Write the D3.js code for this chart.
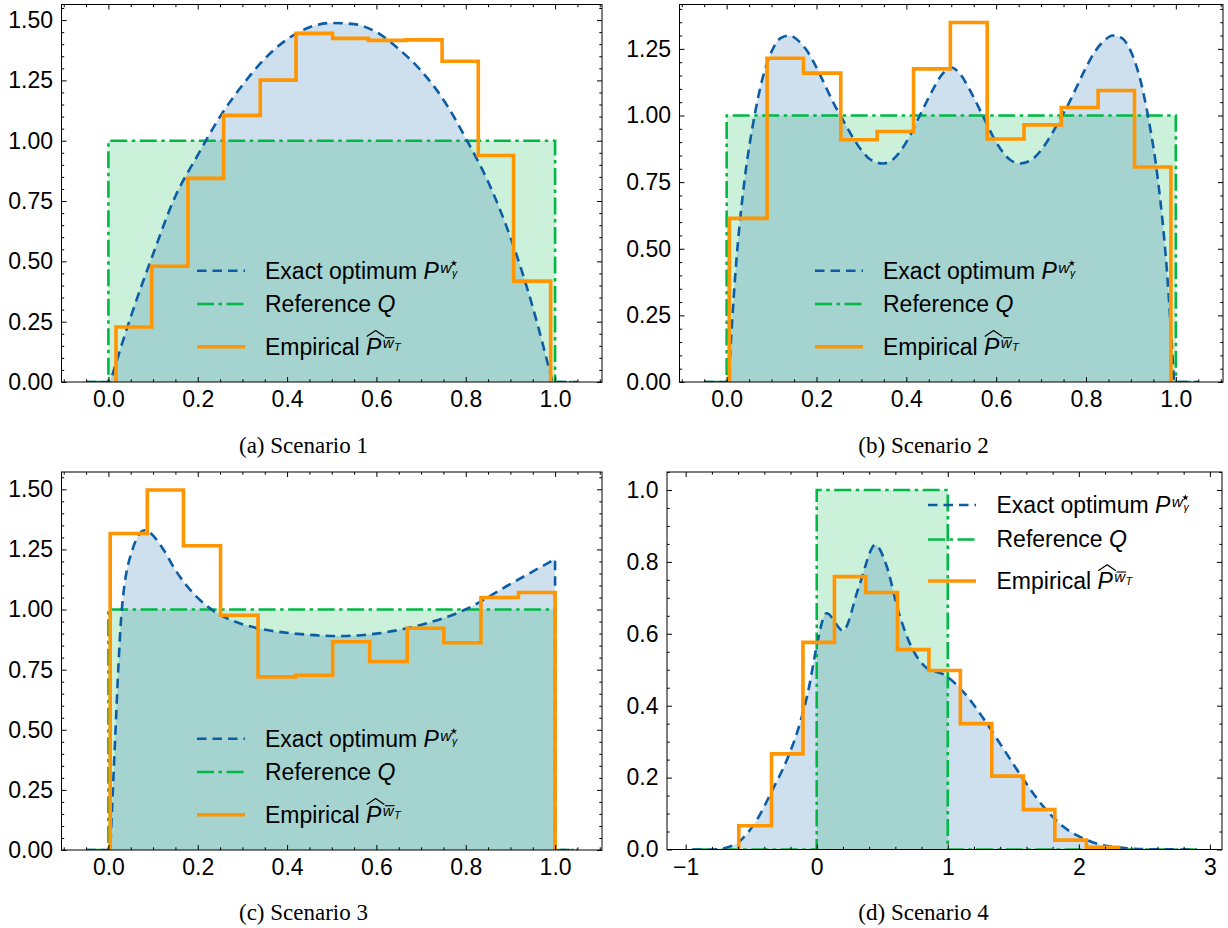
<!DOCTYPE html>
<html>
<head>
<meta charset="utf-8">
<script src="https://cdn.jsdelivr.net/npm/d3@7/dist/d3.min.js"></script>
<style>
  html, body { margin: 0; padding: 0; background: #fff; }
  svg { display: block; }
  text { white-space: pre; }
</style>
</head>
<body>
<script>
// ---------------- DATA ----------------
// Tick labels
const xTicksUnit = [0.0, 0.2, 0.4, 0.6, 0.8, 1.0];
const yTicksA = [0.00, 0.25, 0.50, 0.75, 1.00, 1.25, 1.50];
const yTicksB = [0.00, 0.25, 0.50, 0.75, 1.00, 1.25];
const yTicksC = [0.00, 0.25, 0.50, 0.75, 1.00, 1.25, 1.50];
const xTicksD = [-1, 0, 1, 2, 3];
const yTicksD = [0.0, 0.2, 0.4, 0.6, 0.8, 1.0];

// Legend / captions
const legendLabels = ["Exact optimum", "Reference", "Empirical"];
const captions = ["(a) Scenario 1", "(b) Scenario 2", "(c) Scenario 3", "(d) Scenario 4"];

// Reference Q (uniform density)
const refXUnit = [-0.05, 0, 0, 1, 1, 1.05];
const refYUnit = [0, 0, 1, 1, 0, 0];
const refXD = [-0.95, 0, 0, 1, 1, 2.9];
const refYD = [0, 0, 1, 1, 0, 0];

// Exact optimum curves (smooth part) + support range
const exactXA = [0.004, 0.05, 0.10, 0.15, 0.20, 0.25, 0.30, 0.35, 0.40, 0.45, 0.50, 0.55, 0.60, 0.65, 0.70, 0.75, 0.80, 0.85, 0.90, 0.95, 0.994];
const exactYA = [0, 0.27, 0.53, 0.77, 0.94, 1.10, 1.23, 1.34, 1.42, 1.47, 1.488, 1.483, 1.45, 1.38, 1.29, 1.17, 1.01, 0.83, 0.60, 0.31, 0];
const exactRangeA = [-0.05, 1.05];

const exactXB = [0.004, 0.02, 0.04, 0.06, 0.08, 0.10, 0.12, 0.14, 0.16, 0.18, 0.20, 0.22, 0.24, 0.26, 0.28, 0.30, 0.32, 0.347, 0.37, 0.40, 0.43, 0.46, 0.48, 0.50,
                 0.52, 0.54, 0.57, 0.60, 0.63, 0.653, 0.68, 0.70, 0.72, 0.74, 0.76, 0.78, 0.80, 0.82, 0.84, 0.86, 0.88, 0.90, 0.92, 0.94, 0.96, 0.98, 0.996];
const exactYB = [0, 0.42, 0.76, 0.98, 1.14, 1.24, 1.29, 1.30, 1.28, 1.24, 1.18, 1.11, 1.04, 0.98, 0.92, 0.87, 0.835, 0.82, 0.835, 0.90, 1.00, 1.10, 1.155, 1.18,
                 1.155, 1.10, 1.00, 0.90, 0.835, 0.82, 0.835, 0.87, 0.92, 0.98, 1.04, 1.11, 1.18, 1.24, 1.28, 1.30, 1.29, 1.24, 1.14, 0.98, 0.76, 0.42, 0];
const exactRangeB = [-0.05, 1.05];

const exactXC = [0.004, 0.010, 0.016, 0.022, 0.030, 0.054, 0.081, 0.123, 0.149, 0.175, 0.231, 0.283, 0.340, 0.418, 0.522, 0.600, 0.686, 0.799, 0.894, 1.000];
const exactYC = [0, 0.25, 0.50, 0.75, 1.00, 1.25, 1.33, 1.25, 1.167, 1.10, 1.00, 0.95, 0.92, 0.90, 0.89, 0.90, 0.93, 1.00, 1.10, 1.21];
const exactRangeC = [-0.05, 1.05];

const exactXD = [-0.95, -0.80, -0.70, -0.58, -0.459, -0.339, -0.219, -0.129, -0.054, -0.009, 0.075, 0.201, 0.321, 0.447, 0.532,
                 0.622, 0.712, 0.832, 0.982, 1.132, 1.282, 1.432, 1.583, 1.733, 1.883, 2.033, 2.183, 2.333, 2.50, 2.90];
const exactYD = [0, 0.0, 0.004, 0.026, 0.081, 0.165, 0.257, 0.35, 0.46, 0.55, 0.657, 0.609, 0.73, 0.847, 0.79,
                 0.664, 0.572, 0.507, 0.484, 0.433, 0.359, 0.276, 0.192, 0.118, 0.063, 0.031, 0.012, 0.005, 0.001, 0];
const exactRangeD = [-0.95, 2.9];

// Empirical histograms (bin edges and densities)
const histEdgesA = [0.017, 0.097, 0.178, 0.258, 0.340, 0.420, 0.502, 0.582, 0.665, 0.747, 0.828, 0.907, 0.990];
const histValsA  = [0.228, 0.480, 0.844, 1.105, 1.251, 1.445, 1.424, 1.416, 1.418, 1.329, 0.939, 0.418];

const histEdgesB = [0.006, 0.090, 0.171, 0.254, 0.335, 0.416, 0.498, 0.580, 0.662, 0.745, 0.827, 0.908, 0.989];
const histValsB  = [0.614, 1.215, 1.159, 0.909, 0.940, 1.175, 1.349, 0.912, 0.965, 1.030, 1.094, 0.807];

const histEdgesC = [0.004, 0.087, 0.168, 0.251, 0.335, 0.419, 0.502, 0.585, 0.669, 0.751, 0.834, 0.918, 1.000];
const histValsC  = [1.316, 1.497, 1.265, 0.976, 0.720, 0.727, 0.866, 0.784, 0.922, 0.862, 1.050, 1.071];

const histEdgesD = [-0.595, -0.345, -0.105, 0.135, 0.375, 0.616, 0.856, 1.096, 1.336, 1.577, 1.817, 2.057, 2.303];
const histValsD  = [0.066, 0.266, 0.576, 0.759, 0.715, 0.556, 0.498, 0.350, 0.204, 0.111, 0.026, 0.006];

// ---------------- STYLE ----------------
const C_BLUE = "#0C5DA5", C_GREEN = "#00B945", C_ORANGE = "#FF9500";
const FONT_SANS = "'Liberation Sans', Arial, Helvetica, sans-serif";
const FONT_SERIF = "'Liberation Serif', 'Times New Roman', Times, serif";
const TICK_FONT = 23;
const LEG_FONT = 23;

const panels = [
  { key: "a", left: 61.5, right: 602, top: 4.5, bottom: 382,
    xDomain: [-0.105, 1.105], yDomain: [0, 1.5645],
    xTicks: xTicksUnit, xMinor: 0.05, xFmt: ".1f", yTicks: yTicksA, yMinor: 0.05, yFmt: ".2f",
    refX: refXUnit, refY: refYUnit, exX: exactXA, exY: exactYA, exR: exactRangeA, dropEnd: false,
    edges: histEdgesA, vals: histValsA,
    legend: { lx0: 197, lx1: 245, tx: 265, ys: [270.7, 304, 346.7] },
    cap: { x: 303.5, y: 452.5, t: captions[0] } },
  { key: "b", left: 679.5, right: 1223, top: 4.5, bottom: 382,
    xDomain: [-0.105, 1.105], yDomain: [0, 1.4165],
    xTicks: xTicksUnit, xMinor: 0.05, xFmt: ".1f", yTicks: yTicksB, yMinor: 0.05, yFmt: ".2f",
    refX: refXUnit, refY: refYUnit, exX: exactXB, exY: exactYB, exR: exactRangeB, dropEnd: false,
    edges: histEdgesB, vals: histValsB,
    legend: { lx0: 815, lx1: 863, tx: 883, ys: [270.7, 304, 346.7] },
    cap: { x: 923.5, y: 452.5, t: captions[1] } },
  { key: "c", left: 61.5, right: 602, top: 472, bottom: 850,
    xDomain: [-0.105, 1.105], yDomain: [0, 1.572],
    xTicks: xTicksUnit, xMinor: 0.05, xFmt: ".1f", yTicks: yTicksC, yMinor: 0.05, yFmt: ".2f",
    refX: refXUnit, refY: refYUnit, exX: exactXC, exY: exactYC, exR: exactRangeC, dropEnd: true,
    edges: histEdgesC, vals: histValsC,
    legend: { lx0: 197, lx1: 245, tx: 265, ys: [738.7, 772, 814.7] },
    cap: { x: 303.5, y: 920, t: captions[2] } },
  { key: "d", left: 667, right: 1222, top: 472, bottom: 849.5,
    xDomain: [-1.1425, 3.0925], yDomain: [0, 1.05],
    xTicks: xTicksD, xMinor: 0.2, xFmt: "d", yTicks: yTicksD, yMinor: 0.05, yFmt: ".1f",
    refX: refXD, refY: refYD, exX: exactXD, exY: exactYD, exR: exactRangeD, dropEnd: false,
    edges: histEdgesD, vals: histValsD,
    legend: { lx0: 928, lx1: 976, tx: 996.5, ys: [505, 539.5, 581] },
    cap: { x: 923.5, y: 920, t: captions[3] } }
];

const svg = d3.select("body").append("svg")
  .attr("width", 1228).attr("height", 928)
  .attr("viewBox", "0 0 1228 928");
svg.append("rect").attr("width", 1228).attr("height", 928).attr("fill", "#fff");

function minorValues(domain, step, majors) {
  const out = [];
  const start = Math.ceil(domain[0] / step - 1e-9);
  const end = Math.floor(domain[1] / step + 1e-9);
  for (let i = start; i <= end; i++) {
    const v = +(i * step).toFixed(6);
    if (!majors.some(m => Math.abs(m - v) < 1e-6)) out.push(v);
  }
  return out;
}

function styleLine(sel, kind) {
  if (kind === "exact") sel.attr("stroke", C_BLUE).attr("stroke-width", 2.6).attr("stroke-dasharray", "9.5,6");
  if (kind === "ref") sel.attr("stroke", C_GREEN).attr("stroke-width", 2.6).attr("stroke-dasharray", "17,4.5,3.5,4.5");
  if (kind === "emp") sel.attr("stroke", C_ORANGE).attr("stroke-width", 3.6).attr("stroke-linejoin", "miter");
  return sel.attr("fill", "none");
}

function legendText(g, x, b, kind) {
  const t = g.append("text").attr("x", x).attr("y", b)
    .attr("font-family", FONT_SANS).attr("font-size", LEG_FONT).attr("fill", "#000");
  if (kind === "exact") {
    t.append("tspan").text(legendLabels[0] + " ");
    t.append("tspan").attr("font-style", "italic").text("P");
    t.append("tspan").attr("font-style", "italic").attr("font-size", 15.5)
      .attr("dx", 1.5).attr("dy", -5.8).text("w");
    const endW = x + t.node().getComputedTextLength();
    const gam = t.append("tspan").attr("font-style", "italic").attr("font-size", 10.5)
      .attr("dx", 0.4).attr("dy", 3.8).text("γ");
    const gw = gam.node().getComputedTextLength();
    // star (math \star) drawn as a small symbol above the gamma
    g.append("path")
      .attr("d", d3.symbol().type(d3.symbolStar).size(13)())
      .attr("transform", `translate(${endW + 0.4 + gw / 2 + 0.8},${b - 15.2})`)
      .attr("fill", "#000");
  } else if (kind === "ref") {
    t.append("tspan").text(legendLabels[1] + " ");
    t.append("tspan").attr("font-style", "italic").text("Q");
  } else {
    const pre = t.append("tspan").text(legendLabels[2] + " ");
    t.append("tspan").attr("font-style", "italic").text("P");
    const px0 = x + pre.node().getComputedTextLength();
    const px1 = x + t.node().getComputedTextLength();
    const wT = t.append("tspan").attr("font-style", "italic").attr("font-size", 15)
      .attr("dx", 1.5).attr("dy", -6.7).text("w");
    const ww = wT.node().getComputedTextLength();
    t.append("tspan").attr("font-style", "italic").attr("font-size", 11)
      .attr("dx", 0.3).attr("dy", 3.3).text("T");
    g.append("path")
      .attr("d", `M${px0 + 0.8},${b - 18}L${(px0 + px1) / 2 + 2},${b - 24}L${px1 + 3},${b - 18}`)
      .attr("fill", "none").attr("stroke", "#000").attr("stroke-width", 1.2);
    const wx = px1 + 1.5;
    g.append("line").attr("x1", wx + 2.2).attr("x2", wx + ww + 0.8)
      .attr("y1", b - 16.8).attr("y2", b - 16.8).attr("stroke", "#000").attr("stroke-width", 1.1);
  }
}

panels.forEach(p => {
  const x = d3.scaleLinear().domain(p.xDomain).range([p.left, p.right]);
  const y = d3.scaleLinear().domain(p.yDomain).range([p.bottom, p.top]);
  const g = svg.append("g");
  const clipId = "clip-" + p.key;
  g.append("clipPath").attr("id", clipId).append("rect")
    .attr("x", p.left).attr("y", p.top).attr("width", p.right - p.left).attr("height", p.bottom - p.top);
  const plot = g.append("g").attr("clip-path", `url(#${clipId})`);

  // Reference Q
  const refPts = p.refX.map((v, i) => [v, p.refY[i]]);
  const refArea = d3.area().x(d => x(d[0])).y0(y(0)).y1(d => y(d[1]));
  const refLine = d3.line().x(d => x(d[0])).y(d => y(d[1]));

  // Exact optimum: flat support + smooth interior
  const exPts = p.exX.map((v, i) => [v, p.exY[i]]);
  const smooth = d3.line().x(d => x(d[0])).y(d => y(d[1])).curve(d3.curveMonotoneX)(exPts);
  let exPath = `M${x(p.exR[0])},${y(0)}` + smooth.replace(/^M/, "L");
  const last = exPts[exPts.length - 1];
  if (p.dropEnd) exPath += `L${x(last[0])},${y(0)}`;
  exPath += `L${x(p.exR[1])},${y(0)}`;
  const exArea = exPath + `L${x(p.exR[0])},${y(0)}Z`;

  // fills
  plot.append("path").attr("d", refArea(refPts)).attr("fill", C_GREEN).attr("fill-opacity", 0.2);
  plot.append("path").attr("d", exArea).attr("fill", C_BLUE).attr("fill-opacity", 0.2);

  // lines
  styleLine(plot.append("path").attr("d", refLine(refPts)), "ref");
  styleLine(plot.append("path").attr("d", exPath), "exact");

  // histogram step outline
  const hPts = [[p.edges[0], 0]];
  p.vals.forEach((v, i) => { hPts.push([p.edges[i], v]); hPts.push([p.edges[i + 1], v]); });
  hPts.push([p.edges[p.edges.length - 1], 0]);
  styleLine(plot.append("path").attr("d", refLine(hPts)), "emp");

  // frame
  g.append("rect").attr("x", p.left).attr("y", p.top)
    .attr("width", p.right - p.left).attr("height", p.bottom - p.top)
    .attr("fill", "none").attr("stroke", "#000").attr("stroke-width", 1);

  // axes
  const xMinorV = minorValues(p.xDomain, p.xMinor, p.xTicks);
  const yMinorV = minorValues(p.yDomain, p.yMinor, p.yTicks);
  const fmtX = d3.format(p.xFmt);
  const fmtY = d3.format(p.yFmt);
  const MAJ = 5, MIN = 2.7;

  const axes = [
    [d3.axisBottom(x).tickValues(p.xTicks).tickFormat(fmtX).tickSizeInner(-MAJ).tickSizeOuter(0).tickPadding(9), `translate(0,${p.bottom})`],
    [d3.axisBottom(x).tickValues(xMinorV).tickFormat("").tickSizeInner(-MIN).tickSizeOuter(0), `translate(0,${p.bottom})`],
    [d3.axisTop(x).tickValues(p.xTicks).tickFormat("").tickSizeInner(-MAJ).tickSizeOuter(0), `translate(0,${p.top})`],
    [d3.axisTop(x).tickValues(xMinorV).tickFormat("").tickSizeInner(-MIN).tickSizeOuter(0), `translate(0,${p.top})`],
    [d3.axisLeft(y).tickValues(p.yTicks).tickFormat(fmtY).tickSizeInner(-MAJ).tickSizeOuter(0).tickPadding(8.5), `translate(${p.left},0)`],
    [d3.axisLeft(y).tickValues(yMinorV).tickFormat("").tickSizeInner(-MIN).tickSizeOuter(0), `translate(${p.left},0)`],
    [d3.axisRight(y).tickValues(p.yTicks).tickFormat("").tickSizeInner(-MAJ).tickSizeOuter(0), `translate(${p.right},0)`],
    [d3.axisRight(y).tickValues(yMinorV).tickFormat("").tickSizeInner(-MIN).tickSizeOuter(0), `translate(${p.right},0)`]
  ];
  axes.forEach(([ax, tr]) => {
    const ag = g.append("g").attr("transform", tr).call(ax);
    ag.select(".domain").remove();
    ag.attr("font-family", FONT_SANS).attr("font-size", TICK_FONT);
    ag.selectAll("line").attr("stroke", "#000").attr("stroke-width", 1);
    ag.selectAll("text").attr("fill", "#000");
  });

  // legend
  const L = p.legend;
  const kinds = ["exact", "ref", "emp"];
  kinds.forEach((k, i) => {
    styleLine(g.append("line").attr("x1", L.lx0).attr("x2", L.lx1)
      .attr("y1", L.ys[i]).attr("y2", L.ys[i]), k);
    legendText(g, L.tx, L.ys[i] + 7.8, k);
  });

  // caption
  svg.append("text").attr("x", p.cap.x).attr("y", p.cap.y)
    .attr("text-anchor", "middle").attr("font-family", FONT_SERIF).attr("font-size", 23)
    .attr("fill", "#000").text(p.cap.t);
});
</script>
</body>
</html>
